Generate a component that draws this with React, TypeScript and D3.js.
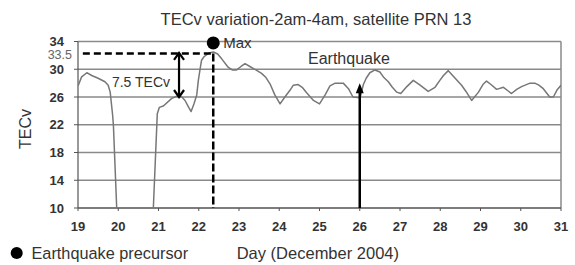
import React from "react";
import * as d3 from "d3";

const days: number[] = [
  19.0, 19.09, 19.22, 19.34, 19.5, 19.67, 19.75, 19.8, 19.86, 19.88, 20.03,
  20.8, 20.97, 21.02, 21.12, 21.33, 21.45, 21.58, 21.66, 21.74, 21.81, 21.88, 21.95, 21.99,
  22.03, 22.07, 22.13, 22.24, 22.36, 22.47, 22.57, 22.73, 22.83, 22.94,
  23.05, 23.15, 23.27, 23.42, 23.56, 23.67, 23.77, 23.89,
  24.02, 24.14, 24.27, 24.35, 24.47, 24.57, 24.68, 24.85,
  25.0, 25.14, 25.26, 25.39, 25.59, 25.72, 25.83,
  26.01, 26.09, 26.16, 26.25, 26.38, 26.5, 26.6, 26.71, 26.81, 26.92,
  27.02, 27.17, 27.33, 27.5, 27.7, 27.87, 27.99,
  28.08, 28.2, 28.37, 28.53, 28.64, 28.78, 28.95,
  29.06, 29.15, 29.26, 29.4, 29.57, 29.68, 29.77, 29.9,
  30.02, 30.23, 30.35, 30.45, 30.56, 30.72, 30.81, 30.9, 31.0,
];
const tecv: number[] = [
  27.6, 28.9, 29.5, 29.1, 28.7, 28.2, 27.7, 26.7, 23.4, 21.9, 0,
  0, 23.6, 24.5, 24.7, 25.8, 26.1, 26.0, 25.5, 24.6, 23.9, 25.0, 26.3, 28.4,
  29.9, 31.3, 31.8, 32.3, 32.5, 32.2, 31.5, 30.3, 29.9, 29.9,
  30.4, 30.8, 30.4, 29.9, 29.4, 28.8, 27.9, 26.3,
  25.0, 26.0, 27.0, 27.7, 27.8, 27.4, 26.6, 25.5,
  25.0, 26.3, 27.6, 28.0, 28.0, 27.2, 26.0,
  25.9, 27.8, 28.7, 29.5, 29.9, 29.6, 28.8, 28.2, 27.4, 26.7,
  26.5, 27.5, 28.4, 27.7, 26.8, 27.4, 28.4,
  29.1, 29.8, 28.7, 27.7, 26.8, 25.5, 26.7,
  27.8, 28.3, 27.8, 27.1, 27.4, 26.9, 26.5, 27.1,
  27.5, 28.0, 28.0, 27.7, 27.2, 26.0, 26.0, 27.0, 27.7,
];

const xTicks: number[] = [19, 20, 21, 22, 23, 24, 25, 26, 27, 28, 29, 30, 31];
const yTicks: number[] = [10, 14, 18, 22, 26, 30, 34];

const title = "TECv variation-2am-4am, satellite PRN 13";
const xLabel = "Day (December 2004)";
const yLabel = "TECv";
const maxLabel = "Max";
const maxValueLabel = "33.5";
const diffLabel = "7.5 TECv";
const quakeLabel = "Earthquake";
const legendLabel = "Earthquake precursor";
const quakeDay = 26;
const quakeArrowTop = 28;
const maxDotValue = 33.8;
const diffArrowDay = 21.51;
const diffArrowBottom = 26.0;
const dashStartDay = 19.12;

export default function App() {
  const W = 575, H = 265;
  const left = 78, right = 561, top = 41.5, bottom = 208;
  const x = d3.scaleLinear().domain([19, 31]).range([left, right]);
  const y = d3.scaleLinear().domain([10, 34]).range([bottom, top]);
  const pts = days.map((d, i) => [d, tecv[i]] as [number, number]);
  const line = d3.line<[number, number]>().x((p) => x(p[0])).y((p) => y(p[1]));
  const maxIdx = d3.maxIndex(tecv);
  const maxDay = days[maxIdx];
  const maxVal = tecv[maxIdx];
  const font = "'Liberation Sans', Arial, sans-serif";
  const ax = x(diffArrowDay);
  const aTop = y(maxVal);
  const aBot = y(diffArrowBottom);
  const qx = x(quakeDay);
  const qTop = y(quakeArrowTop);

  return (
    <svg width={W} height={H} style={{ position: "absolute", left: 0, top: 0, background: "#fff" }} fontFamily={font}>
      <defs>
        <clipPath id="plotClip">
          <rect x={left} y={top - 2} width={right - left} height={bottom - top + 2} />
        </clipPath>
      </defs>
      <rect x={0} y={0} width={W} height={H} fill="#fff" />
      {/* gridlines */}
      {yTicks.map((t) => (
        <line key={"g" + t} x1={left} x2={right} y1={y(t)} y2={y(t)} stroke="#8a8a8a" strokeWidth={1.5} />
      ))}
      {/* right border */}
      <line x1={right} x2={right} y1={top} y2={bottom} stroke="#8a8a8a" strokeWidth={1.5} />
      {/* axes */}
      <line x1={left} x2={left} y1={top} y2={bottom} stroke="#555" strokeWidth={1.2} />
      <line x1={left} x2={right} y1={bottom} y2={bottom} stroke="#555" strokeWidth={1.2} />
      {yTicks.map((t) => (
        <line key={"yt" + t} x1={left - 4} x2={left} y1={y(t)} y2={y(t)} stroke="#555" strokeWidth={1} />
      ))}
      {xTicks.map((t) => (
        <line key={"xt" + t} x1={x(t)} x2={x(t)} y1={bottom} y2={bottom + 3} stroke="#555" strokeWidth={1} />
      ))}
      {yTicks.map((t) => (
        <text key={"yl" + t} x={64} y={y(t)} dy="0.36em" textAnchor="end" fontSize={13} fontWeight="bold" fill="#333">
          {t}
        </text>
      ))}
      <text x={72} y={aTop + 3} dy="0.36em" textAnchor="end" fontSize={12.5} fill="#666">
        {maxValueLabel}
      </text>
      {xTicks.map((t) => (
        <text key={"xl" + t} x={x(t)} y={231} textAnchor="middle" fontSize={13} fontWeight="bold" fill="#333">
          {t}
        </text>
      ))}
      {/* data line */}
      <path d={line(pts) || ""} fill="none" stroke="#777" strokeWidth={1.5} clipPath="url(#plotClip)" strokeLinejoin="round" />
      {/* dashed max lines */}
      <line x1={x(dashStartDay)} x2={x(maxDay)} y1={aTop + 1.5} y2={aTop + 1.5} stroke="#000" strokeWidth={2.5} strokeDasharray="7,4" />
      <line x1={x(maxDay)} x2={x(maxDay)} y1={aTop + 1.5} y2={bottom} stroke="#000" strokeWidth={2.5} strokeDasharray="8,3" />
      {/* double arrow */}
      <line x1={ax} x2={ax} y1={aTop + 1} y2={aBot} stroke="#000" strokeWidth={2.2} />
      <polyline points={`${ax - 5},${aTop + 8} ${ax},${aTop + 1} ${ax + 5},${aTop + 8}`} fill="none" stroke="#000" strokeWidth={2.2} />
      <polyline points={`${ax - 5},${aBot - 7} ${ax},${aBot} ${ax + 5},${aBot - 7}`} fill="none" stroke="#000" strokeWidth={2.2} />
      <text x={170} y={82} dy="0.36em" textAnchor="end" fontSize={14} fill="#333">
        {diffLabel}
      </text>
      {/* max marker */}
      <circle cx={x(maxDay)} cy={y(maxDotValue)} r={6.5} fill="#000" />
      <text x={x(maxDay) + 10} y={43} dy="0.36em" fontSize={15} fill="#333">
        {maxLabel}
      </text>
      {/* earthquake arrow */}
      <line x1={qx} x2={qx} y1={bottom} y2={qTop + 8} stroke="#000" strokeWidth={2.5} />
      <polygon points={`${qx - 4},${qTop + 10} ${qx},${qTop} ${qx + 4},${qTop + 10}`} fill="#000" />
      <text x={308} y={58} dy="0.36em" fontSize={16} fill="#333">
        {quakeLabel}
      </text>
      {/* title */}
      <text x={316} y={19} dy="0.36em" textAnchor="middle" fontSize={16.5} fill="#333">
        {title}
      </text>
      {/* y label */}
      <text transform={`translate(25,129) rotate(-90)`} dy="0.36em" textAnchor="middle" fontSize={16} fill="#333">
        {yLabel}
      </text>
      {/* legend */}
      <circle cx={16.7} cy={253} r={6} fill="#000" />
      <text x={31.5} y={253} dy="0.36em" fontSize={16.3} fill="#333">
        {legendLabel}
      </text>
      <text x={236.7} y={253} dy="0.36em" fontSize={16.5} fill="#333">
        {xLabel}
      </text>
    </svg>
  );
}
